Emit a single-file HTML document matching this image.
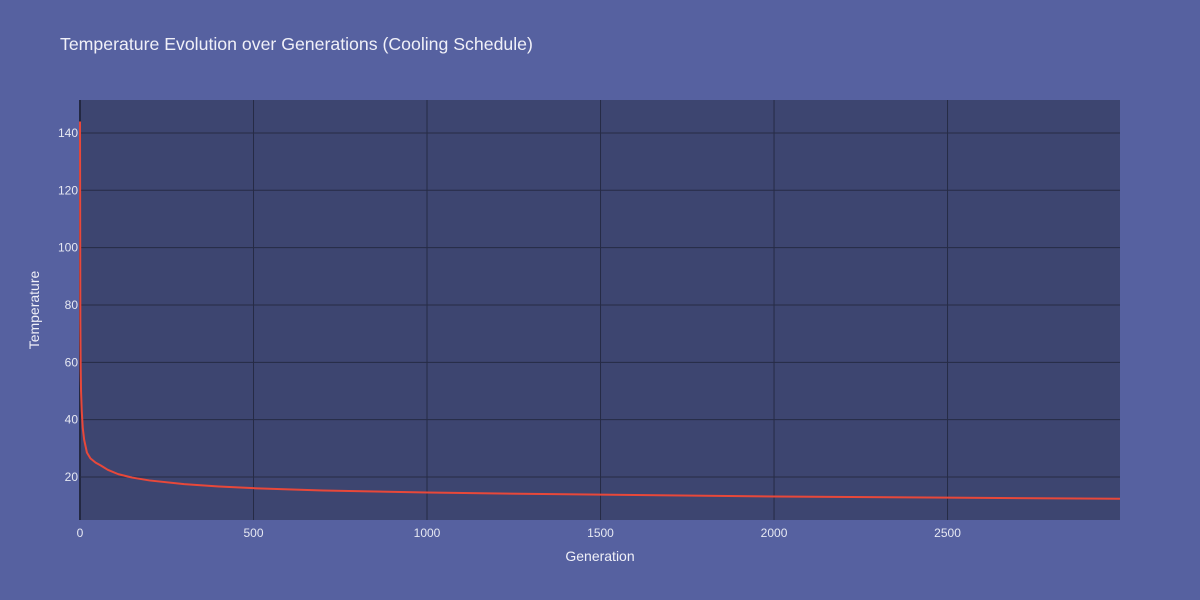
<!DOCTYPE html>
<html><head><meta charset="utf-8"><style>
body{margin:0;background:#5661a0;}
svg{display:block;font-family:"Liberation Sans",sans-serif;}
</style></head><body>
<svg id="chart" width="1200" height="600" viewBox="0 0 1200 600">
<rect x="0" y="0" width="1200" height="600" fill="#5661a0"/>
<rect x="80" y="100" width="1040" height="420" fill="#3d4570"/>
<g id="grid"></g>
<g id="ticks"></g>
<path id="line" fill="none" stroke="#e8483a" stroke-width="2" stroke-linejoin="round"/>
<text x="60" y="50" font-size="17.7" fill="#f0f0f8">Temperature Evolution over Generations (Cooling Schedule)</text>
<text x="600" y="561" font-size="14" fill="#f0f0f8" text-anchor="middle">Generation</text>
<text x="0" y="0" font-size="14" fill="#f0f0f8" text-anchor="middle" transform="translate(39,310) rotate(-90)">Temperature</text>
</svg>
<script>
const generations=[0,1,2,3,5,8,12,20,30,45,60,80,110,150,200,300,400,500,700,1000,1300,1600,2000,2500,2997];
const temperatures=[144,75,58,50,43,37,33,28.5,26.5,25,24,22.5,21,19.8,18.8,17.5,16.7,16.1,15.3,14.6,14.1,13.7,13.2,12.8,12.4];
const xTicks=[0,500,1000,1500,2000,2500];
const yTicks=[20,40,60,80,100,120,140];
const xMin=0,xMax=2997,yMin=5,yMax=151.5;
const L=80,R=1120,T=100,B=520;
const sx=v=>L+(v-xMin)/(xMax-xMin)*(R-L);
const sy=v=>B-(v-yMin)/(yMax-yMin)*(B-T);
const ns="http://www.w3.org/2000/svg";
const grid=document.getElementById('grid'),ticks=document.getElementById('ticks');
function mk(tag,attrs,parent){const e=document.createElementNS(ns,tag);for(const k in attrs)e.setAttribute(k,attrs[k]);parent.appendChild(e);return e;}
xTicks.forEach(v=>{
  const g=mk('line',{x1:sx(v),x2:sx(v),y1:T,y2:B,stroke:v===0?'#232842':'#262b45','stroke-width':v===0?2:1},grid);
  
  
  const t=mk('text',{x:sx(v),y:B+17,'font-size':12,fill:'#e6e8f2','text-anchor':'middle'},ticks);
  t.textContent=v;
  
  
});
yTicks.forEach(v=>{
  const g=mk('line',{x1:L,x2:R,y1:sy(v),y2:sy(v),stroke:'#262b45','stroke-width':1},grid);
  
  
  const t=mk('text',{x:L-2,y:sy(v)+4,'font-size':12,fill:'#e6e8f2','text-anchor':'end'},ticks);
  t.textContent=v;
  
  
});
document.getElementById('line').setAttribute('d',generations.map((g,i)=>(i?'L':'M')+sx(g).toFixed(2)+','+sy(temperatures[i]).toFixed(2)).join(' '));
</script>
</body></html>
